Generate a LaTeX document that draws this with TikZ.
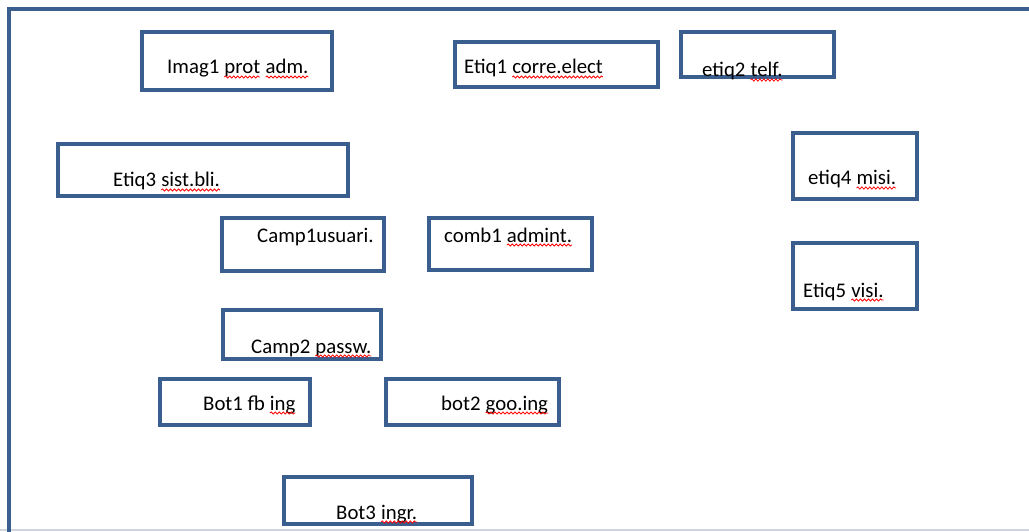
\documentclass[tikz,border=0pt]{standalone}
\usepackage{fontspec}
\setmainfont{Carlito}
\usepackage{xcolor}
\usepackage{tikz}
\usetikzlibrary{positioning, decorations.pathmorphing}

\definecolor{boxblue}{HTML}{3A5F8E}
\definecolor{edgegray}{HTML}{CDD5DF}

% red spell-check wave under a word
\newcommand{\spellmark}[1]{\tikz[baseline=(w.base)]{%
    \node[inner sep=0pt, outer sep=0pt, draw=none, anchor=base] (w) {#1};%
    \draw[red, line width=0.8pt, decorate,
        decoration={snake, amplitude=1.1pt, segment length=4pt}]
        ([yshift=-3pt]w.base west) -- ([yshift=-3pt]w.base east);}}

\tikzset{
    box/.style={draw=boxblue, line width=3.2pt, inner sep=0pt},
    lbl/.style={anchor=base west, inner sep=0pt, text=black,
        font=\fontsize{20.8pt}{25pt}\selectfont}
}

\begin{document}
\begin{tikzpicture}[x=1pt, y=-1pt]
    \useasboundingbox (0,0) rectangle (1029,532);
    \clip (0,0) rectangle (1029,532);

    % Outer frame
    \draw[edgegray, line width=1.5pt] (0,530) -- (1029,530);
    \draw[boxblue, line width=3.2pt] (9,9) rectangle (1060,560);

    % Boxes
    \node[box, minimum width=190, minimum height=58] (imag1) at (237,61) {};
    \node[box, minimum width=203, minimum height=45] (etiq1) at (556.5,64.5) {};
    \node[box, minimum width=153, minimum height=45] (etiq2) at (757.5,54.5) {};
    \node[box, minimum width=290, minimum height=52] (etiq3) at (203,170) {};
    \node[box, minimum width=124, minimum height=66] (etiq4) at (855,166) {};
    \node[box, minimum width=162, minimum height=53] (camp1) at (303,244.5) {};
    \node[box, minimum width=163, minimum height=52] (comb1) at (510.5,244) {};
    \node[box, minimum width=124, minimum height=66] (etiq5) at (855,276) {};
    \node[box, minimum width=158, minimum height=49] (camp2) at (302,334.5) {};
    \node[box, minimum width=150, minimum height=46] (bot1) at (235,402) {};
    \node[box, minimum width=173, minimum height=46] (bot2) at (472.5,402) {};
    \node[box, minimum width=188, minimum height=47] (bot3) at (378,500.5) {};

    % Labels
    \node[lbl] (imag1-t) at (167,74) {Imag1 \spellmark{prot} \spellmark{adm.}};
    \node[lbl] (etiq1-t) at (464,74) {Etiq1 \spellmark{corre.elect}};
    \node[lbl] (etiq2-t) at (702,77) {etiq2 \spellmark{telf.}};
    \node[lbl] (etiq3-t) at (113,187) {Etiq3 \spellmark{sist.bli.}};
    \node[lbl] (etiq4-t) at (808,185) {etiq4 \spellmark{misi.}};
    \node[lbl] (camp1-t) at (257,242) {Camp1usuari.};
    \node[lbl] (comb1-t) at (444,242) {comb1 \spellmark{admint.}};
    \node[lbl] (etiq5-t) at (803,297) {Etiq5 \spellmark{visi.}};
    \node[lbl] (camp2-t) at (251,353) {Camp2 \spellmark{passw.}};
    \node[lbl] (bot1-t) at (203,410) {Bot1 fb \spellmark{ing}};
    \node[lbl] (bot2-t) at (441,410) {bot2 \spellmark{goo.ing}};
    \node[lbl] (bot3-t) at (336,519) {Bot3 \spellmark{ingr.}};
\end{tikzpicture}
\end{document}
